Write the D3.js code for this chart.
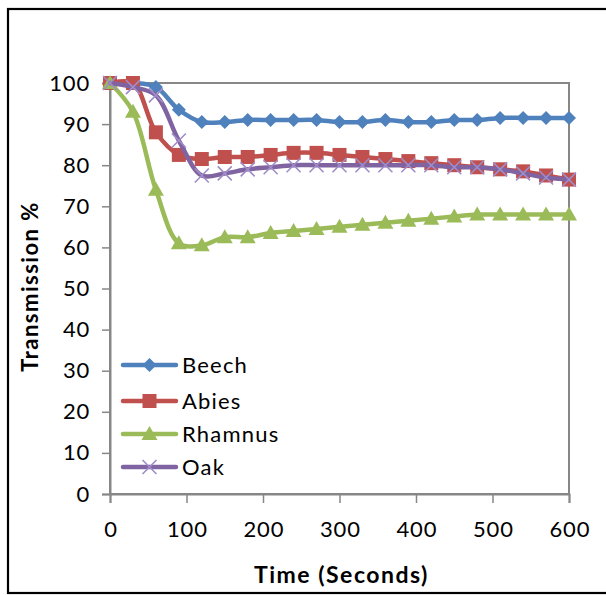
<!DOCTYPE html>
<html>
<head>
<meta charset="utf-8">
<script src="https://cdn.jsdelivr.net/npm/d3@7"></script>
<style>
  html, body { margin: 0; padding: 0; background: #fff; }
  svg { display: block; }
  text { font-family: Lato, "Open Sans", sans-serif; fill: #000; }
</style>
</head>
<body>
<script>
// Light transmission through leaves over time
const times = [0, 30, 60, 90, 120, 150, 180, 210, 240, 270, 300, 330, 360, 390, 420, 450, 480, 510, 540, 570, 600];
const beech   = [100, 100, 99, 93.5, 90.5, 90.5, 91, 91, 91, 91, 90.5, 90.5, 91, 90.5, 90.5, 91, 91, 91.5, 91.5, 91.5, 91.5];
const abies   = [100, 100, 88, 82.5, 81.5, 82, 82, 82.5, 83, 83, 82.5, 82, 81.5, 81, 80.5, 80, 79.5, 79, 78.5, 77.5, 76.5];
const rhamnus = [100, 93, 74, 61, 60.5, 62.5, 62.5, 63.5, 64, 64.5, 65, 65.5, 66, 66.5, 67, 67.5, 68, 68, 68, 68, 68];
const oak     = [100, 99, 97, 86, 77.5, 78, 79, 79.5, 80, 80, 80, 80, 80, 80, 80, 79.5, 79.5, 79, 78, 77, 76.5];
const seriesNames = ["Beech", "Abies", "Rhamnus", "Oak"];
const seriesValues = [beech, abies, rhamnus, oak];
const seriesColors = ["#4F81BD", "#C0504D", "#9BBB59", "#8064A2"];
const seriesMarkers = ["diamond", "square", "triangle", "cross"];
const xTicks = [0, 100, 200, 300, 400, 500, 600];
const yTicks = [0, 10, 20, 30, 40, 50, 60, 70, 80, 90, 100];

const W = 606, H = 595;
const plot = { left: 110, top: 83, right: 569, bottom: 494 };

const svg = d3.select("body").append("svg").attr("width", W).attr("height", H);

// outer chart frame
svg.append("rect")
  .attr("x", 8).attr("y", 9).attr("width", 620).attr("height", 584)
  .attr("fill", "#fff").attr("stroke", "#000").attr("stroke-width", 2.2);

const x = d3.scaleLinear().domain([0, 600]).range([plot.left, plot.right]);
const y = d3.scaleLinear().domain([0, 100]).range([plot.bottom, plot.top]);

// plot-area border
svg.append("rect")
  .attr("x", plot.left).attr("y", plot.top)
  .attr("width", plot.right - plot.left).attr("height", plot.bottom - plot.top)
  .attr("fill", "none").attr("stroke", "#878787").attr("stroke-width", 2);

// axes
const yAxis = d3.axisLeft(y).tickValues(yTicks).tickSize(8).tickPadding(12).tickFormat(d3.format("d"));
const gy = svg.append("g").attr("transform", `translate(${plot.left},0)`).call(yAxis);
const xAxis = d3.axisBottom(x).tickValues(xTicks).tickSize(9).tickPadding(18).tickFormat(d3.format("d"));
const gx = svg.append("g").attr("transform", `translate(0,${plot.bottom})`).call(xAxis);
[gx, gy].forEach(g => {
  g.select(".domain").attr("stroke", "#878787").attr("stroke-width", 2);
  g.selectAll(".tick line").attr("stroke", "#878787").attr("stroke-width", 1.5);
  g.selectAll(".tick text")
    .style("font-size", "22px").style("letter-spacing", "0.8px")
    .style("font-family", "Lato, 'Open Sans', sans-serif").attr("fill", "#000");
});
gx.selectAll(".tick text").attr("dx", "0.4px");

// axis titles
svg.append("text")
  .attr("x", (plot.left + plot.right) / 2 + 2).attr("y", 583)
  .attr("text-anchor", "middle").style("font-size", "23px").style("font-weight", "bold")
  .style("letter-spacing", "1.5px")
  .text("Time (Seconds)");
svg.append("text")
  .attr("transform", `translate(38,${(plot.top + plot.bottom) / 2 - 2}) rotate(-90)`)
  .attr("text-anchor", "middle").style("font-size", "22px").style("font-weight", "bold")
  .style("letter-spacing", "1.5px")
  .text("Transmission %");

// marker drawing
function drawMarker(g, type, color, cx, cy) {
  if (type === "diamond") {
    const r = 7;
    g.append("path").attr("d", `M${cx},${cy - r}L${cx + r},${cy}L${cx},${cy + r}L${cx - r},${cy}Z`).attr("fill", color);
  } else if (type === "square") {
    const s = 14;
    g.append("rect").attr("x", cx - s / 2).attr("y", cy - s / 2).attr("width", s).attr("height", s).attr("fill", color);
  } else if (type === "triangle") {
    const r = 8;
    g.append("path").attr("d", `M${cx},${cy - r}L${cx + r},${cy + r * 0.75}L${cx - r},${cy + r * 0.75}Z`).attr("fill", color);
  } else {
    const r = 7;
    g.append("path").attr("d", `M${cx - r},${cy - r}L${cx + r},${cy + r}M${cx - r},${cy + r}L${cx + r},${cy - r}`)
      .attr("stroke", "#A08CC8").attr("stroke-width", 1.6).attr("fill", "none");
  }
}

const line = d3.line().x(d => x(d[0])).y(d => y(d[1])).curve(d3.curveCatmullRom.alpha(0.5));

seriesValues.forEach((vals, i) => {
  const g = svg.append("g");
  const pts = times.map((t, k) => [t, vals[k]]);
  g.append("path").datum(pts).attr("d", line)
    .attr("fill", "none").attr("stroke", seriesColors[i]).attr("stroke-width", 4.5)
    .attr("stroke-linejoin", "round").attr("stroke-linecap", "round");
  pts.forEach(p => drawMarker(g, seriesMarkers[i], seriesColors[i], x(p[0]), y(p[1])));
});

// legend
const legendRows = [365, 401, 434, 467];
seriesNames.forEach((name, i) => {
  const g = svg.append("g");
  const ly = legendRows[i];
  g.append("line").attr("x1", 123).attr("x2", 176).attr("y1", ly).attr("y2", ly)
    .attr("stroke", seriesColors[i]).attr("stroke-width", 4.5).attr("stroke-linecap", "round");
  drawMarker(g, seriesMarkers[i], seriesColors[i], 149.5, ly);
  g.append("text").attr("x", 182).attr("y", ly).attr("dy", "0.35em")
    .style("font-size", "22px").style("letter-spacing", "1.2px").text(name);
});
</script>
</body>
</html>
